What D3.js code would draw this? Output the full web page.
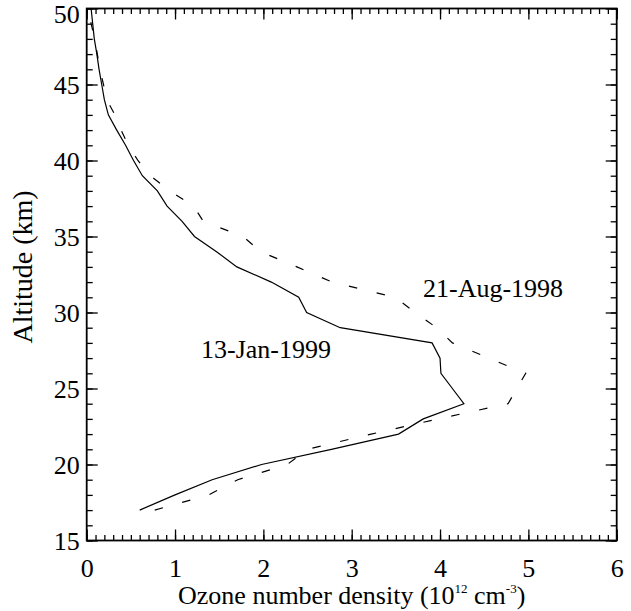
<!DOCTYPE html>
<html><head><meta charset="utf-8">
<script src="https://cdn.jsdelivr.net/npm/d3@7"></script>
<style>
body{margin:0;background:#fff}svg{display:block}
</style>
</head><body>
<svg id="c" width="631" height="611"></svg>
<script>
// Altitude levels (km)
const altitudes = [17,18,19,20,21,22,23,24,25,26,27,28,29,30,31,32,33,34,35,36,37,38,39,40,41,42,43,44,45,46,47,48,49,50];
// 13-Jan-1999 (solid) ozone number density, 10^12 cm^-3
const jan1999 = [0.60,1.00,1.42,1.98,2.77,3.53,3.81,4.27,4.14,4.01,4.00,3.91,2.87,2.49,2.40,2.09,1.70,1.47,1.22,1.08,0.91,0.80,0.63,0.53,0.44,0.34,0.245,0.20,0.17,0.14,0.115,0.086,0.068,0.05];
// 21-Aug-1998 (dashed)
const aug1998 = [0.77,1.38,1.71,2.27,2.50,3.22,3.98,4.77,4.87,4.97,4.55,4.14,3.96,3.72,3.49,2.78,2.38,1.97,1.77,1.32,1.21,0.94,0.72,0.58,0.47,0.39,0.32,0.226,0.19,0.15,0.12,0.09,0.05,0.02];
const xTicks = [0,1,2,3,4,5,6];
const yTicks = [15,20,25,30,35,40,45,50];
const seriesLabels = ["13-Jan-1999","21-Aug-1998"];

const svg = d3.select("#c");
const L = 86.7, T = 8.5, W = 530, H = 532;
const x = d3.scaleLinear().domain([0,6]).range([L, L+W]);
const y = d3.scaleLinear().domain([15,50]).range([T+H, T]);
const font = "Liberation Serif, Times New Roman, serif";

const xMinor = d3.range(0,6.0001,0.1).map(v=>+v.toFixed(1));
const yMinor = d3.range(15,51,1);

function styleAxis(g){ g.select(".domain").remove(); g.selectAll("line").attr("stroke","#000").attr("stroke-width",1.3); }

// bottom
svg.append("g").attr("transform",`translate(0,${T+H})`)
  .call(d3.axisBottom(x).tickValues(xMinor).tickSize(-5.5).tickFormat(""))
  .call(styleAxis);
svg.append("g").attr("transform",`translate(0,${T+H})`)
  .call(d3.axisBottom(x).tickValues(xTicks).tickSize(-11).tickPadding(18).tickFormat(d3.format("d")))
  .call(styleAxis)
  .selectAll("text").attr("font-family",font).attr("font-size",26).attr("fill","#000");
// top
svg.append("g").attr("transform",`translate(0,${T})`)
  .call(d3.axisTop(x).tickValues(xMinor).tickSize(-5.5).tickFormat(""))
  .call(styleAxis);
svg.append("g").attr("transform",`translate(0,${T})`)
  .call(d3.axisTop(x).tickValues(xTicks).tickSize(-11).tickFormat(""))
  .call(styleAxis);
// left
svg.append("g").attr("transform",`translate(${L},0)`)
  .call(d3.axisLeft(y).tickValues(yMinor).tickSize(-6).tickFormat(""))
  .call(styleAxis);
svg.append("g").attr("transform",`translate(${L},0)`)
  .call(d3.axisLeft(y).tickValues(yTicks).tickSize(-11).tickPadding(7).tickFormat(d3.format("d")))
  .call(styleAxis)
  .selectAll("text").attr("font-family",font).attr("font-size",26).attr("fill","#000")
  .attr("dy", d => d===50 ? "0.55em" : "0.33em");
// right
svg.append("g").attr("transform",`translate(${L+W},0)`)
  .call(d3.axisRight(y).tickValues(yMinor).tickSize(-6).tickFormat(""))
  .call(styleAxis);
svg.append("g").attr("transform",`translate(${L+W},0)`)
  .call(d3.axisRight(y).tickValues(yTicks).tickSize(-11).tickFormat(""))
  .call(styleAxis);

// frame
svg.append("rect").attr("x",L).attr("y",T).attr("width",W).attr("height",H)
  .attr("fill","none").attr("stroke","#000").attr("stroke-width",1.8);

const line = d3.line().x(d=>x(d[0])).y(d=>y(d[1]));
const solidData = altitudes.map((a,i)=>[jan1999[i],a]);
const dashData = altitudes.map((a,i)=>[aug1998[i],a]);
svg.append("path").datum(solidData).attr("d",line)
  .attr("fill","none").attr("stroke","#000").attr("stroke-width",1.2);
svg.append("path").datum(dashData).attr("d",line)
  .attr("fill","none").attr("stroke","#000").attr("stroke-width",1.2)
  .attr("stroke-dasharray","8.5,20");

// series labels
svg.append("text").attr("x",201).attr("y",358).attr("font-family",font).attr("font-size",26)
  .attr("fill","#000").text(seriesLabels[0]);
svg.append("text").attr("x",423).attr("y",297).attr("font-family",font).attr("font-size",26)
  .attr("fill","#000").text(seriesLabels[1]);

// axis titles
const xt = svg.append("text").attr("x",x(3)).attr("y",604).attr("text-anchor","middle")
  .attr("font-family",font).attr("font-size",26).attr("fill","#000");
xt.append("tspan").text("Ozone number density (10");
xt.append("tspan").attr("font-size",13).attr("dy",-11).text("12");
xt.append("tspan").attr("dy",11).text(" cm");
xt.append("tspan").attr("font-size",13).attr("dy",-11).text("-3");
xt.append("tspan").attr("dy",11).text(")");

svg.append("text").attr("transform",`translate(32,267) rotate(-90)`).attr("text-anchor","middle")
  .attr("font-family",font).attr("font-size",28).attr("fill","#000").text("Altitude (km)");
</script>
</body></html>
